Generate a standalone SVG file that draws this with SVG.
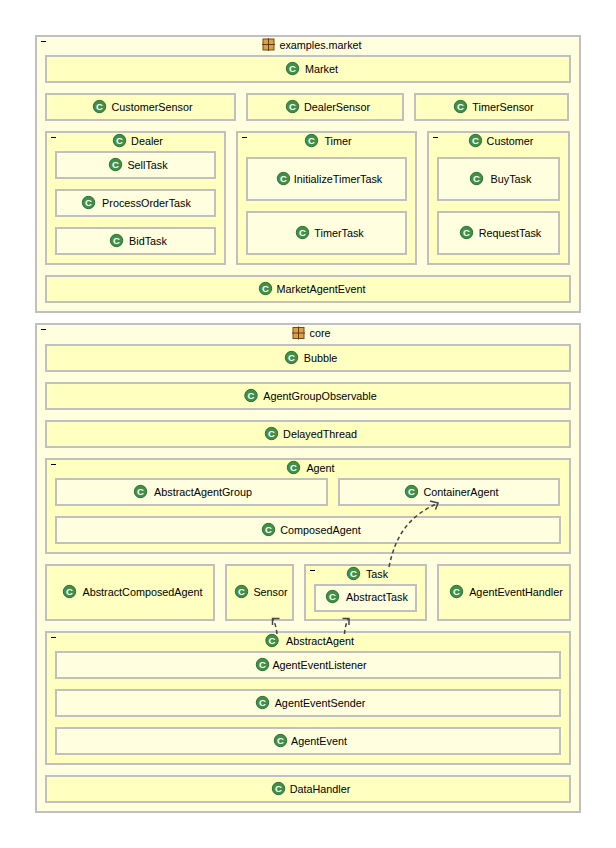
<svg xmlns="http://www.w3.org/2000/svg" width="616" height="848" viewBox="0 0 616 848">
<style>
text{font-family:"Liberation Sans",Arial,sans-serif;font-size:10.8px;fill:#000;text-anchor:middle}
rect{stroke:#c0c0c0;stroke-width:2}
.p{fill:#ffffe0}.c{fill:#ffffc0}.i{fill:#ffffe0}
.m{stroke:#000;stroke-width:1;fill:none}
.b{fill:#3f9147;stroke:#2f7037;stroke-width:1}
.g{font-size:9.5px;font-weight:bold;fill:#fff}
.e{fill:none;stroke:#444;stroke-width:1.5;stroke-dasharray:4 3}
.h{fill:none;stroke:#444;stroke-width:1.5}
</style>
<defs>
<g id="ci"><circle r="6.200" class="b"/><text y="3.400" class="g">C</text></g>
<g id="pk"><rect x="-5.500" y="-5.500" width="11" height="11" fill="#e0a040" style="stroke:#6e4a20;stroke-width:1"/><path d="M0-6.500V6.500M-6.500 0H6.500" stroke="#5e3c18" stroke-width="1"/></g>
<path id="mn" d="M0 0H5" class="m"/>
</defs>
<rect width="616" height="848" style="fill:#fff;stroke:none"/>
<g id="examples.market"><rect class="p" x="36" y="36" width="544" height="276"/><use href="#mn" x="41" y="41.500"/><use href="#pk" x="268.500" y="44.500"/><text x="320.500" y="49">examples.market</text></g>
<g id="Market"><rect class="c" x="46" y="56" width="524" height="26"/><use href="#ci" x="292.500" y="68.500"/><text x="321.500" y="73">Market</text></g>
<g id="CustomerSensor"><rect class="c" x="46" y="94" width="189" height="26"/><use href="#ci" x="99.500" y="106.500"/><text x="152" y="111">CustomerSensor</text></g>
<g id="DealerSensor"><rect class="c" x="247" y="94" width="156" height="26"/><use href="#ci" x="292.500" y="106.500"/><text x="337" y="111">DealerSensor</text></g>
<g id="TimerSensor"><rect class="c" x="415" y="94" width="153" height="26"/><use href="#ci" x="460.500" y="106.500"/><text x="503" y="111">TimerSensor</text></g>
<g id="Dealer"><rect class="c" x="46" y="132" width="179" height="132"/><use href="#mn" x="51" y="137.500"/><use href="#ci" x="119.500" y="140.500"/><text x="147" y="145">Dealer</text></g>
<g id="SellTask"><rect class="i" x="56" y="152" width="159" height="26"/><use href="#ci" x="115.500" y="164.500"/><text x="147.500" y="169">SellTask</text></g>
<g id="ProcessOrderTask"><rect class="i" x="56" y="190" width="159" height="26"/><use href="#ci" x="88.500" y="202.500"/><text x="146.500" y="207">ProcessOrderTask</text></g>
<g id="BidTask"><rect class="i" x="56" y="228" width="159" height="26"/><use href="#ci" x="116.500" y="240.500"/><text x="148" y="245">BidTask</text></g>
<g id="Timer"><rect class="c" x="237" y="132" width="179" height="132"/><use href="#mn" x="242" y="137.500"/><use href="#ci" x="311.500" y="140.500"/><text x="338" y="145">Timer</text></g>
<g id="InitializeTimerTask"><rect class="i" x="247" y="158" width="159" height="42"/><use href="#ci" x="283.500" y="178.500"/><text x="338" y="183">InitializeTimerTask</text></g>
<g id="TimerTask"><rect class="i" x="247" y="212" width="159" height="42"/><use href="#ci" x="302.500" y="232.500"/><text x="339" y="237">TimerTask</text></g>
<g id="Customer"><rect class="c" x="428" y="132" width="141" height="132"/><use href="#mn" x="433" y="137.500"/><use href="#ci" x="475.500" y="140.500"/><text x="510" y="145">Customer</text></g>
<g id="BuyTask"><rect class="i" x="438" y="158" width="121" height="42"/><use href="#ci" x="476.500" y="178.500"/><text x="511" y="183">BuyTask</text></g>
<g id="RequestTask"><rect class="i" x="438" y="212" width="121" height="42"/><use href="#ci" x="466.500" y="232.500"/><text x="510" y="237">RequestTask</text></g>
<g id="MarketAgentEvent"><rect class="c" x="46" y="276" width="524" height="26"/><use href="#ci" x="265.500" y="288.500"/><text x="321" y="293">MarketAgentEvent</text></g>

<g id="core"><rect class="p" x="36" y="324" width="544" height="488"/><use href="#mn" x="41" y="329.500"/><use href="#pk" x="298.500" y="333"/><text x="320" y="337">core</text></g>
<g id="Bubble"><rect class="c" x="46" y="345" width="524" height="26"/><use href="#ci" x="291.500" y="357.500"/><text x="320.500" y="362">Bubble</text></g>
<g id="AgentGroupObservable"><rect class="c" x="46" y="383" width="524" height="26"/><use href="#ci" x="251" y="395.500"/><text x="320" y="400">AgentGroupObservable</text></g>
<g id="DelayedThread"><rect class="c" x="46" y="421" width="524" height="26"/><use href="#ci" x="271.500" y="433.500"/><text x="320" y="438">DelayedThread</text></g>
<g id="Agent"><rect class="c" x="46" y="459" width="524" height="94"/><use href="#mn" x="51" y="464.500"/><use href="#ci" x="293.500" y="467.500"/><text x="320.500" y="472">Agent</text></g>
<g id="AbstractAgentGroup"><rect class="i" x="56" y="479" width="271" height="26"/><use href="#ci" x="140.500" y="491.500"/><text x="203" y="496">AbstractAgentGroup</text></g>
<g id="ContainerAgent"><rect class="i" x="339" y="479" width="220" height="26"/><use href="#ci" x="411.500" y="491.500"/><text x="461" y="496">ContainerAgent</text></g>
<g id="ComposedAgent"><rect class="i" x="56" y="517" width="504" height="26"/><use href="#ci" x="268.500" y="529.500"/><text x="320.500" y="534">ComposedAgent</text></g>
<g id="AbstractComposedAgent"><rect class="c" x="46" y="565" width="168" height="55"/><use href="#ci" x="69.500" y="591.500"/><text x="142.500" y="596">AbstractComposedAgent</text></g>
<g id="Sensor"><rect class="c" x="226" y="565" width="67" height="55"/><use href="#ci" x="241.500" y="591.500"/><text x="270.500" y="596">Sensor</text></g>
<g id="Task"><rect class="c" x="305" y="565" width="121" height="55"/><use href="#mn" x="310" y="570.500"/><use href="#ci" x="353.500" y="573.500"/><text x="377" y="578">Task</text></g>
<g id="AbstractTask"><rect class="i" x="315" y="585" width="101" height="26"/><use href="#ci" x="332.500" y="596.500"/><text x="377" y="601">AbstractTask</text></g>
<g id="AgentEventHandler"><rect class="c" x="438" y="565" width="132" height="55"/><use href="#ci" x="456.500" y="591.500"/><text x="516" y="596">AgentEventHandler</text></g>
<g id="AbstractAgent"><rect class="c" x="46" y="632" width="524" height="132"/><use href="#mn" x="51" y="637.500"/><use href="#ci" x="272" y="640.500"/><text x="320" y="645">AbstractAgent</text></g>
<g id="AgentEventListener"><rect class="i" x="56" y="652" width="504" height="26"/><use href="#ci" x="262.500" y="664.500"/><text x="319.500" y="669">AgentEventListener</text></g>
<g id="AgentEventSender"><rect class="i" x="56" y="690" width="504" height="26"/><use href="#ci" x="262.500" y="702.500"/><text x="320" y="707">AgentEventSender</text></g>
<g id="AgentEvent"><rect class="i" x="56" y="728" width="504" height="26"/><use href="#ci" x="280.500" y="740.500"/><text x="319" y="745">AgentEvent</text></g>
<g id="DataHandler"><rect class="c" x="46" y="776" width="524" height="26"/><use href="#ci" x="278.500" y="788.500"/><text x="320" y="793">DataHandler</text></g>
<g id="connectors">
<path class="e" d="M389 567C396 533 410 516 438 503"/><path class="h" d="M430 501L438 503L435.500 509.500"/>
<path class="e" d="M277 634Q276 625 273 619"/><path class="h" d="M272.500 625V618.500H279.500"/>
<path class="e" d="M344.500 634Q345 626 348 619"/><path class="h" d="M342.500 618.500H349V625"/>
</g>
</svg>
